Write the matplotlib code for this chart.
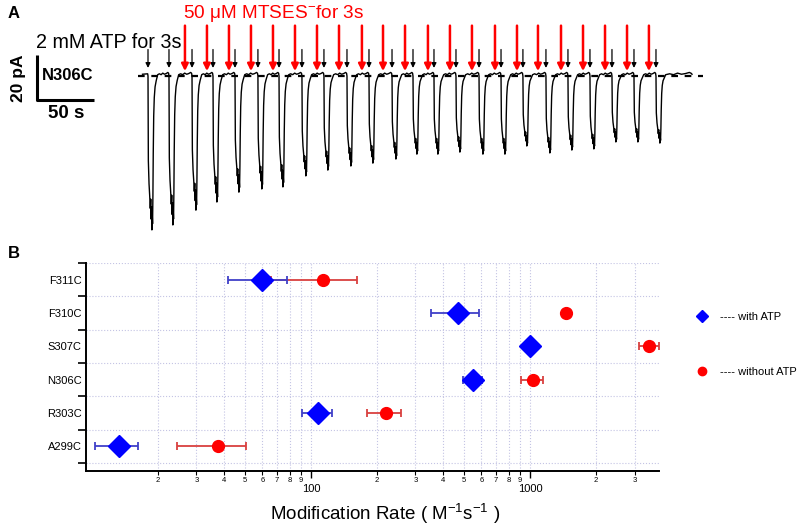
import numpy as np
import matplotlib
matplotlib.use("Agg")
import matplotlib.pyplot as plt
from matplotlib.lines import Line2D

plt.rcParams['font.family'] = ['Liberation Sans', 'DejaVu Sans']
plt.rcParams['mathtext.fontset'] = 'custom'
plt.rcParams['mathtext.rm'] = 'Liberation Sans'
plt.rcParams['mathtext.it'] = 'Liberation Sans:italic'

# ---------------------------------
# Panel A data (time in s, current in pA)
# ---------------------------------
atp_times = [8.8, 27.2, 47.4, 65.8, 85.1, 105.2, 123.7, 143.8, 163.1, 183.3,
             202.6, 222.8, 241.2, 259.6, 278.9, 299.1, 318.4, 337.6, 357.8,
             377.1, 396.4, 415.7, 435.0, 454.3]
mtses_times = [41.2, 60.5, 79.8, 99.1, 118.4, 137.7, 157.0, 176.3, 196.4,
               214.9, 234.2, 254.3, 273.6, 292.9, 313.1, 332.4, 350.8, 371.0,
               390.3, 409.6, 428.9, 448.1]
peak_current = [68.4, 66.2, 59.6, 56.0, 51.6, 50.2, 49.3, 44.4, 41.8, 40.0,
                38.7, 36.9, 34.7, 34.7, 33.8, 34.7, 34.7, 31.1, 34.2, 32.9,
                32.4, 29.3, 29.3, 29.8]
trace_start = 4.0
trace_end = 485.9
baseline_end = 495.5

pulse_dt = [0.0, 0.3, 0.9, 1.5, 2.0, 2.4, 2.8, 3.1, 3.4, 3.7, 4.0, 4.3,
            4.6, 5.0, 5.5, 6.2, 7.2, 8.5]
pulse_frac = [0.0, 0.55, 0.70, 0.78, 0.86, 0.80, 0.93, 0.85, 1.00, 0.90,
              0.96, 0.78, 0.50, 0.26, 0.14, 0.07, 0.03, 0.0]
# small fluctuations of the plateau between responses (pA)
plateau_frac = [0.15, 0.3, 0.45, 0.6, 0.75, 0.9, 0.97]
plateau_val = [1.0, 0.6, 1.3, 0.8, 1.1, 1.6, 1.2]

# ---------------------------------
# Panel B data
# ---------------------------------
mutants = ['A299C', 'R303C', 'N306C', 'S307C', 'F310C', 'F311C']
with_atp = [13.3, 107.3, 547, 1000, 471, 59.6]
with_lo = [10.3, 90.7, 493, 1000, 353, 41.7]
with_hi = [16.2, 124.7, 602, 1000, 585, 77.5]
without_atp = [37.5, 219, 1032, 3506, 1456, 113.8]
without_lo = [24.4, 179.6, 913, 3135, 1456, 65.5]
without_hi = [50.5, 259, 1147, 3893, 1456, 162.8]

minor_ticks = [20, 30, 40, 50, 60, 70, 80, 90,
               200, 300, 400, 500, 600, 700, 800, 900, 2000, 3000]
minor_labels = ['2', '3', '4', '5', '6', '7', '8', '9',
                '2', '3', '4', '5', '6', '7', '8', '9', '2', '3']
major_ticks = [100, 1000]
major_labels = ['100', '1000']

fig = plt.figure(figsize=(8, 5.3), dpi=100)

# ---------------------------------
# Panel A
# ---------------------------------
ax_a = fig.add_axes([0, 1 - 245 / 530, 1, 245 / 530])
ax_a.set_xlim(-121.0, 580.6)
ax_a.set_ylim(-75.1, 33.8)
ax_a.axis('off')

ax_a.plot([0, baseline_end], [0, 0], color='k', lw=1.6, ls=(0, (3, 3)), zorder=1)

tt = [trace_start]
ii = [0.8]
for k, (t0, amp) in enumerate(zip(atp_times, peak_current)):
    tt.append(t0 - 0.3)
    ii.append(1.0)
    for dt, fr in zip(pulse_dt, pulse_frac):
        tt.append(t0 + dt)
        ii.append(-amp * fr + (0.6 if fr == 0.0 and dt > 0 else 0))
    t_next = atp_times[k + 1] if k + 1 < len(atp_times) else trace_end
    t_a = t0 + pulse_dt[-1]
    for f, v in zip(plateau_frac, plateau_val):
        tt.append(t_a + f * (t_next - t_a))
        ii.append(v)
tt.append(trace_end)
ii.append(0.8)
ax_a.plot(tt, ii, color='k', lw=1.0, zorder=2)

for t in atp_times:
    ax_a.annotate('', xy=(t, 3.6), xytext=(t, 11.8),
                  arrowprops=dict(arrowstyle='-|>', color='k', lw=0.9,
                                  mutation_scale=7, shrinkA=0, shrinkB=0))
for t in mtses_times:
    ax_a.annotate('', xy=(t, 2.2), xytext=(t, 22.4),
                  arrowprops=dict(arrowstyle='-|>', color='red', lw=1.8,
                                  mutation_scale=10, shrinkA=0, shrinkB=0))

# scale bar 20 pA / 50 s
ax_a.plot([-88.6, -88.6, -38.6], [9.3, -10.7, -10.7], color='k', lw=2.2,
          solid_capstyle='butt')

fig.text(8 / 800, 1 - 13 / 530, 'A', fontsize=12, fontweight='bold',
         va='center', ha='left')
fig.text(36 / 800, 1 - 42 / 530, '2 mM ATP for 3s', fontsize=14.2,
         va='center', ha='left')
fig.text(183 / 800, 1 - 14 / 530, '50 \u03bcM MTSES$^{-}$for 3s', fontsize=13.7,
         color='red', va='center', ha='left')
fig.text(18 / 800, 1 - 78 / 530, '20 pA', fontsize=12.5, fontweight='bold',
         rotation=90, va='center', ha='center')
fig.text(42 / 800, 1 - 76 / 530, 'N306C', fontsize=12, fontweight='bold',
         va='center', ha='left')
fig.text(66 / 800, 1 - 114 / 530, '50 s', fontsize=13.5, fontweight='bold',
         va='center', ha='center')

# ---------------------------------
# Panel B
# ---------------------------------
ax_b = fig.add_axes([86 / 800, 1 - 471 / 530, 573 / 800, 208 / 530])
ypos = np.arange(len(mutants))

w = np.array(with_atp)
wo = np.array(without_atp)
ax_b.errorbar(wo, ypos, xerr=[wo - np.array(without_lo), np.array(without_hi) - wo],
              fmt='none', ecolor='#d9403f', elinewidth=1.3, capsize=3,
              capthick=1.3, zorder=3, clip_on=False)
ax_b.errorbar(w, ypos, xerr=[w - np.array(with_lo), np.array(with_hi) - w],
              fmt='none', ecolor='#4040c8', elinewidth=1.3, capsize=3,
              capthick=1.3, zorder=3, clip_on=False)
ax_b.plot(w, ypos, ls='none', marker='D', ms=11, color='blue', zorder=4)
ax_b.plot(wo, ypos, ls='none', marker='o', ms=8.5, color='red', zorder=4,
          clip_on=False)

ax_b.set_xscale('log')
ax_b.set_xlim(9.4, 3880)
ax_b.set_ylim(-0.74, 5.5)

ax_b.set_xticks(major_ticks)
ax_b.set_xticklabels(major_labels, fontsize=8)
ax_b.set_xticks(minor_ticks, minor=True)
ax_b.set_xticklabels(minor_labels, minor=True, fontsize=5.5)
ax_b.tick_params(axis='x', which='major', length=5, width=1, pad=4)
ax_b.tick_params(axis='x', which='minor', length=3, width=0.8, pad=1.5)

ax_b.set_yticks(np.arange(-0.5, 5.6, 1.0))
ax_b.set_yticklabels([])
ax_b.set_yticks(ypos, minor=True)
ax_b.set_yticklabels(mutants, minor=True, fontsize=8)
ax_b.tick_params(axis='y', which='major', length=6, width=1.2)
ax_b.tick_params(axis='y', which='minor', length=0, pad=3)

ax_b.grid(True, which='both', axis='x', color='#c4c4e4', ls=':', lw=0.8)
ax_b.grid(True, which='major', axis='y', color='#c4c4e4', ls=':', lw=0.8)
ax_b.set_axisbelow(True)

for s in ['top', 'right']:
    ax_b.spines[s].set_visible(False)
for s in ['left', 'bottom']:
    ax_b.spines[s].set_linewidth(1.4)

fig.text(8 / 800, 1 - 253 / 530, 'B', fontsize=12, fontweight='bold',
         va='center', ha='left')
fig.text(385 / 800, 1 - 514 / 530, 'Modification Rate ( M$^{-1}$s$^{-1}$ )',
         fontsize=13.5, va='center', ha='center')

handles = [Line2D([], [], ls='none', marker='D', ms=6, color='blue'),
           Line2D([], [], ls='none', marker='o', ms=6, color='red')]
fig.legend(handles, ['---- with ATP', '---- without ATP'], loc='center left',
           bbox_to_anchor=(686 / 800, 1 - 344.5 / 530), frameon=False,
           fontsize=8, handlelength=1.0, handletextpad=1.2, labelspacing=4.1)

plt.savefig('out.png', dpi=100)
